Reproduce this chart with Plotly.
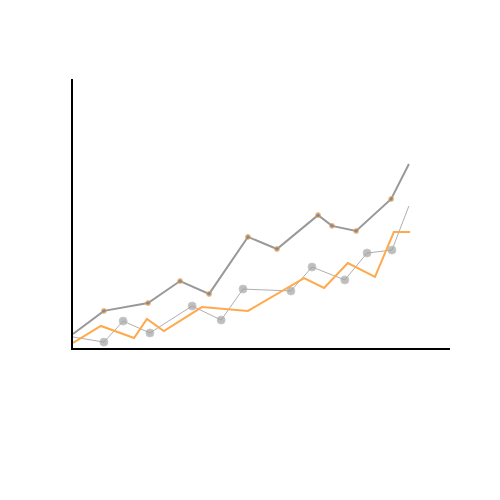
import plotly.graph_objects as go

# Serie gris oscura (marcadores con borde naranja)
x_a = [0, 8.2, 19.9, 28.4, 36.1, 46.4, 54.1, 65.0, 68.7, 75.1, 84.4, 89.1]
y_a = [5.2, 13.8, 16.7, 24.9, 20.1, 41.3, 36.8, 49.4, 45.4, 43.5, 55.4, 68.4]

# Serie gris clara
x_b = [0, 8.2, 13.3, 20.4, 31.6, 39.3, 45.1, 57.8, 63.4, 72.1, 78.0, 84.6, 89.1]
y_b = [4.1, 2.2, 10.0, 5.6, 15.6, 10.4, 21.9, 21.2, 30.1, 25.3, 35.3, 36.4, 52.8]

# Serie naranja
x_c = [0, 7.4, 16.2, 19.6, 24.1, 34.2, 46.4, 61.3, 66.6, 72.9, 80.1, 85.1, 89.4]
y_c = [1.9, 8.2, 3.7, 10.8, 6.3, 15.2, 13.8, 26.0, 22.3, 31.6, 26.4, 43.1, 43.1]

fig = go.Figure()

fig.add_trace(go.Scatter(
    x=x_b, y=y_b, mode='lines+markers',
    line=dict(color='#b0b0b0', width=1),
    marker=dict(color='#a3a3a3', size=[0] + [8] * (len(x_b) - 2) + [0]),
))

fig.add_trace(go.Scatter(
    x=x_c, y=y_c, mode='lines',
    line=dict(color='#ffa94d', width=2),
))

fig.add_trace(go.Scatter(
    x=x_a, y=y_a, mode='lines+markers',
    line=dict(color='#999999', width=2),
    marker=dict(color='#808080', size=[0] + [5] * (len(x_a) - 2) + [0],
                line=dict(color='#ffa040', width=1)),
))

fig.update_layout(
    width=500, height=500,
    margin=dict(l=65, r=58, t=71, b=160),
    plot_bgcolor='white', paper_bgcolor='white',
    showlegend=False,
)
fig.update_xaxes(range=[0, 100], showline=True, linecolor='black', linewidth=2,
                 showticklabels=False, ticks='', showgrid=False, zeroline=False)
fig.update_yaxes(range=[0, 100], showline=True, linecolor='black', linewidth=2,
                 showticklabels=False, ticks='', showgrid=False, zeroline=False)

fig.write_html("out.html")
